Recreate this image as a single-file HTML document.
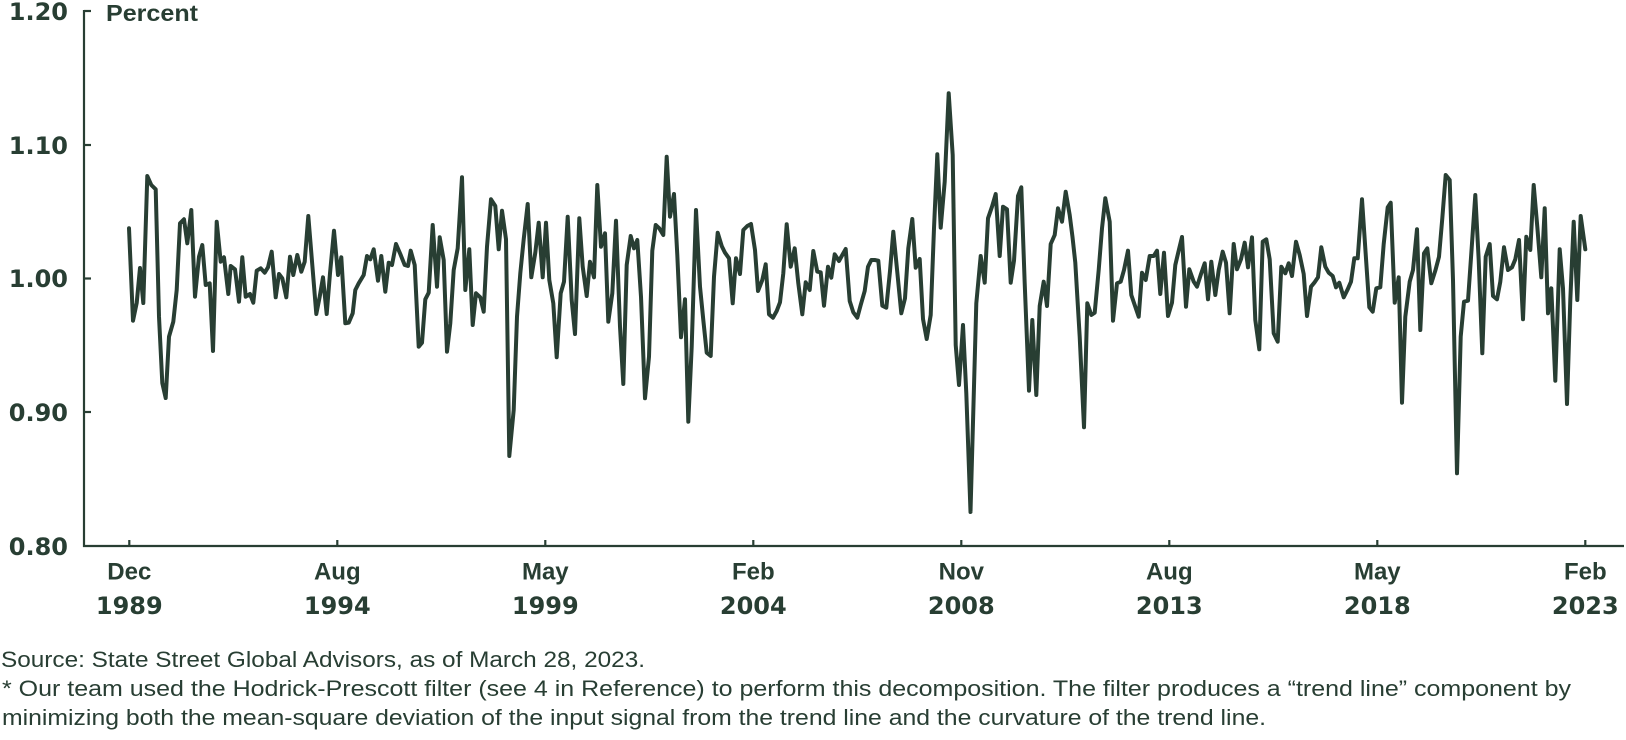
<!DOCTYPE html>
<html>
<head>
<meta charset="utf-8">
<style>
html,body{margin:0;padding:0;background:#fff;}
svg{display:block;}
</style>
</head>
<body>
<svg width="1626" height="740" viewBox="0 0 1626 740" xmlns="http://www.w3.org/2000/svg">
<rect width="1626" height="740" fill="#fff"/>
<g fill="#283e33">
  <text x="68" y="20" font-family="DejaVu Sans, sans-serif" font-weight="bold" font-size="24" text-anchor="end">1.20</text>
  <text x="68" y="154" font-family="DejaVu Sans, sans-serif" font-weight="bold" font-size="24" text-anchor="end">1.10</text>
  <text x="68" y="287" font-family="DejaVu Sans, sans-serif" font-weight="bold" font-size="24" text-anchor="end">1.00</text>
  <text x="68" y="421" font-family="DejaVu Sans, sans-serif" font-weight="bold" font-size="24" text-anchor="end">0.90</text>
  <text x="68" y="555" font-family="DejaVu Sans, sans-serif" font-weight="bold" font-size="24" text-anchor="end">0.80</text>
  <text x="106" y="21" font-family="Liberation Sans, sans-serif" font-weight="bold" font-size="23" textLength="92" lengthAdjust="spacingAndGlyphs">Percent</text>

  <g font-family="Liberation Sans, sans-serif" font-weight="bold" font-size="24" text-anchor="middle">
    <text x="129.3" y="579.5">Dec</text>
    <text x="337.3" y="579.5">Aug</text>
    <text x="545.3" y="579.5">May</text>
    <text x="753.3" y="579.5">Feb</text>
    <text x="961.3" y="579.5">Nov</text>
    <text x="1169.3" y="579.5">Aug</text>
    <text x="1377.3" y="579.5">May</text>
    <text x="1585.3" y="579.5">Feb</text>
  </g>
  <g font-family="DejaVu Sans, sans-serif" font-weight="bold" font-size="24" text-anchor="middle">
    <text x="129.3" y="614">1989</text>
    <text x="337.3" y="614">1994</text>
    <text x="545.3" y="614">1999</text>
    <text x="753.3" y="614">2004</text>
    <text x="961.3" y="614">2008</text>
    <text x="1169.3" y="614">2013</text>
    <text x="1377.3" y="614">2018</text>
    <text x="1585.3" y="614">2023</text>
  </g>

  <g font-family="Liberation Sans, sans-serif" font-size="22.5">
    <text x="1" y="667" textLength="644" lengthAdjust="spacingAndGlyphs">Source: State Street Global Advisors, as of March 28, 2023.</text>
    <text x="2" y="696" textLength="1569" lengthAdjust="spacingAndGlyphs">* Our team used the Hodrick-Prescott filter (see 4 in Reference) to perform this decomposition. The filter produces a “trend line” component by</text>
    <text x="2" y="725" textLength="1264" lengthAdjust="spacingAndGlyphs">minimizing both the mean-square deviation of the input signal from the trend line and the curvature of the trend line.</text>
  </g>
</g>

<g stroke="#283e33" stroke-width="2.2" fill="none">
  <line x1="84" y1="10" x2="84" y2="547"/>
  <line x1="83" y1="546" x2="1624" y2="546"/>
  <line x1="84" y1="11" x2="91" y2="11"/>
  <line x1="84" y1="145" x2="91" y2="145"/>
  <line x1="84" y1="278.5" x2="91" y2="278.5"/>
  <line x1="84" y1="412" x2="91" y2="412"/>
  <line x1="129.3" y1="546" x2="129.3" y2="540"/>
  <line x1="337.3" y1="546" x2="337.3" y2="540"/>
  <line x1="545.3" y1="546" x2="545.3" y2="540"/>
  <line x1="753.3" y1="546" x2="753.3" y2="540"/>
  <line x1="961.3" y1="546" x2="961.3" y2="540"/>
  <line x1="1169.3" y1="546" x2="1169.3" y2="540"/>
  <line x1="1377.3" y1="546" x2="1377.3" y2="540"/>
  <line x1="1585.3" y1="546" x2="1585.3" y2="540"/>
</g>

<polyline fill="none" stroke="#283e33" stroke-width="4" stroke-linejoin="round" stroke-linecap="round" points="
129,228.3 133,320.7 136.7,303 140,268 143.3,303 147.3,176 151.3,185 155.7,189.3 159,316.7 162.3,383 165.7,398 169,336.7 173.3,321.7 176.7,290 180,223.3 184,219.3 187.3,243.3 191.3,210 195,296.7 199,256.7 202.3,245 205.7,285 209.7,283.3 213,351 216.7,221.7 220.7,261.7 224,257.3 228.3,294 230.7,266 235,269.3 239,301.7 242.3,257.3 245.7,296.7 250,294 253.3,302.7 256.7,270.7 260.7,268.3 264.7,272.7 268,267.3 271.7,251.7 275.7,297.3 279,274 282.3,278.3 286.3,297.3 290,256.7 293.3,275 297.3,255 301.3,271.7 304.7,261.7 308.3,216 312.3,265 316.3,314 319.7,296.7 323,277.3 326.7,314 330,273.3 334,230.7 338,275 341.3,257.3
345.3,323.3 348.7,322.7 352.7,313.3 355.3,290 358.7,283.3 363.7,275 367,256 370.3,259.3 373.7,249.3 378,280.7 381.3,256 385.3,291.7 388.7,262.7 392,265 396,244 400.3,254 404.7,265 408,266 410.7,250.7 414.7,265 418.7,346.7 422,342.7 425.3,299.3 428.7,292.7 432.7,225 437,286.7 439.7,237.3 443.7,260 447,351.7 450.3,323.3 453.7,270 457.7,248.3 462,177.3 465.3,290 469.3,249.3 472.7,325 476,293.3 480.3,297.3 483.7,311.7 487,246.7 491,199.3 495.3,206 498.7,249.3 502,210.7 506,239.3 509.3,456 513.7,410 517,316.7 520.3,273.3 523.7,239.3 527.7,204 531.3,277.3 535.3,252.7 538.7,222.7 542.7,277.3 546,222.7
549.3,280 553.3,303.3 556.7,357.3 560.7,293.3 564,281.7 567.7,216.7 571.7,300 575,334 579.3,218.3 582.7,266.7 586.7,296 590,261.7 594,277.3 597.3,185 601,246.7 605,233.3 608.3,321.7 612.3,293.3 616,220.7 620,326.7 623.3,384 626.7,265 630.7,236 634,248.3 637.3,240 641,296.7 645,398.3 649,356.7 652.3,250.7 655.7,225 659.3,228.3 663.3,235 666.7,156.7 670,216.7 674,194 677.3,255 681,337.3 685,299.3 688.3,421.7 691.7,346.7 696,210 700,286.7 703.3,320 706.7,352.7 710.7,356 714,276.7 717.7,232.7 721.7,246 725,252.7 729,258.3 732.7,303.3 736,258.3 740,274 743.3,230 747.3,226 751,224
755,250 758,291 762.3,280 765.7,264.3 769,314.3 773,317.7 776.7,311 780,302.3 783.3,273.3 786.7,224.3 790.7,266.7 794.7,248.3 798.3,283.3 802.3,314.3 805.7,282.3 809.7,290 813.3,251 817.3,271.7 820.7,272.3 824,305.7 828,266.7 831.3,277.7 834.7,254.3 839,261 842.3,255 845.7,249 849.7,301 853.3,312.3 857.3,317.7 860.7,305 864.7,291 868,266.7 871.3,260 874.7,260 878.3,260.7 882.3,305.7 886.3,307.7 890,271 893.3,231.7 897.3,272.3 901.3,313.3 905,298.3 908.3,248.3 912.3,219 915.7,267.7 919.7,259 923,319 926.7,339 930.7,315 934,228.3 937.3,154.3 940.7,227.7 944.7,181.7 948.7,93.3 952.7,155 955.7,345 959,385 963,325 966.3,393.3 970.5,512
976.3,303.3 980.7,256 984.7,282.7 988,218.3 992,206.7 995.7,194 999.7,256 1003,206.7 1007,209.3 1010.7,282.7 1014,260.7 1018,196 1021.3,187.3 1024.7,283.3 1029,390.7 1032.3,320 1036.3,395 1039.7,306 1043.7,281.7 1047,306 1050.7,244 1054.7,235 1058,208.3 1062,221.7 1065.7,191.7 1069.7,215 1072.5,237 1075.3,262.7 1079.7,336.7 1084,427.3 1087.3,303.3 1091.3,315 1094.7,312.7 1098.7,270 1102,228.3 1105.3,198.3 1109.7,221.7 1113,320.7 1117,283.3 1120.7,281.7 1124,270 1128,250.7 1131.3,295 1134.7,305 1138.7,316.7 1142,272.7 1145.7,280 1149.7,256 1153.7,256 1157,250.7 1160.3,294 1164,252.7 1168,316 1172,302.7 1175.3,265 1179,249.3 1182,237
1186,306.7 1189.3,269.3 1193.7,281.7 1197,286.7 1201,274 1204.7,263.3 1208,299.3 1211.3,261.7 1215.3,295 1218.7,270 1222.7,251.7 1226,262.7 1229.7,313.3 1233.7,244 1237,269.3 1241,259.3 1244.7,242.7 1248,267.3 1252,237.3 1255.3,320 1259.3,349.3 1262.7,241.7 1266.3,239.3 1269.7,259.3 1273.7,333.3 1277.7,341.7 1281.3,266.7 1285.3,273.3 1288.7,263.3 1292,276 1296,241.7 1299.7,255 1303.7,274 1307,316 1311,286.7 1314.3,282.7 1318,277.3 1321.3,247.3 1325.3,266.7 1328.7,272.7 1332.7,276 1336,287.3 1339.3,282.7 1343.7,297.3 1347.7,289.3 1351,281.7 1354.3,258.3 1357.7,258.3 1362,199.3 1365.3,248.3 1369.3,307.3 1372.7,311.7 1376.3,288.3 1380.3,287.3 1383.7,244 1387.7,207.3 1390.7,202.7
1394.7,302.7 1398.7,277.3 1402,402.7 1405.3,316.7 1409.7,281.7 1413,270 1417,229.3 1420.3,330 1424,253.3 1427.3,248.3 1431.3,283.3 1435.3,270.7 1439,256.7 1442.3,218.3 1445.7,175 1449.7,180 1453,280 1457,473.3 1460.7,336.7 1464,301.7 1468,300.7 1472,243.3 1475.3,195 1478.7,260 1482.3,353.3 1485.7,256.7 1489.7,244 1493,296 1497,299.3 1500.3,281.7 1504,247.3 1508,270 1512,267.3 1515.3,259.3 1519,240 1523,319.3 1526.3,236.7 1530.3,250 1533.7,185 1537.3,226.7 1541.3,277.3 1544.7,208.3 1548,313.3 1551.3,288.3 1555.3,380.7 1559.7,249.3 1563,288.3 1567,404 1570.3,300 1573.7,221.7 1577.3,300 1580.7,216 1585.3,249.3"/>
</svg>
</body>
</html>
